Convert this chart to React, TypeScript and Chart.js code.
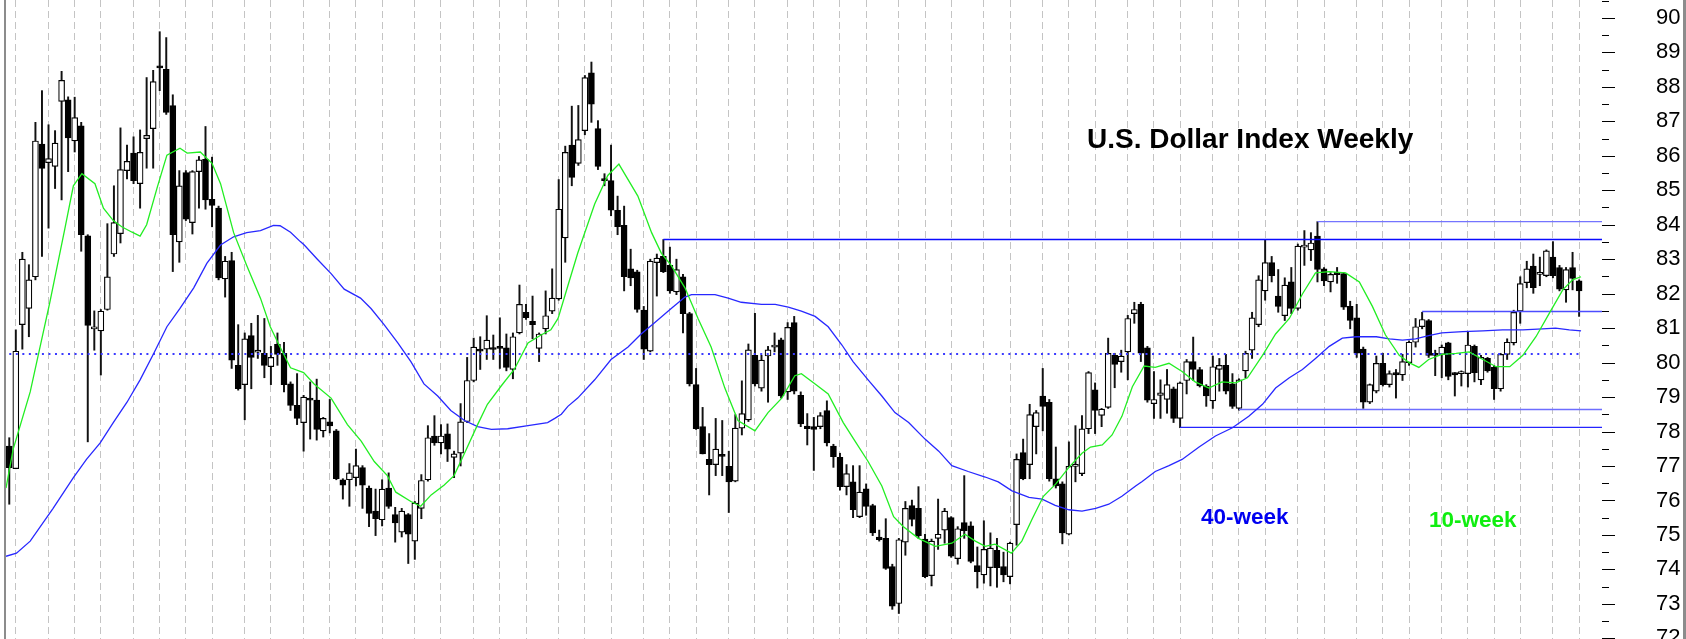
import React, { useEffect, useRef } from 'react';
import { Chart, registerables } from 'chart.js';

Chart.register(...registerables);

// Weekly OHLC (index 0..240)
const opens = [
  77.58, 76.92, 81.1, 81.57, 82.49, 86.34, 85.8, 85.69, 87.58, 87.62,
  86.43, 86.87, 83.68, 80.98, 80.92, 81.54, 83.15, 83.74, 85.57, 86.08,
  85.19, 86.5, 86.79, 88.61, 88.51, 87.46, 83.5, 85.51, 84.06, 85.54,
  85.9, 84.74, 84.48, 82.43, 82.96, 79.92, 79.36, 80.78, 80.3, 80.27,
  79.88, 80.53, 80.27, 79.38, 78.76, 78.26, 78.97, 78.91, 78.02, 78.28,
  78.02, 76.6, 76.6, 76.66, 76.95, 76.36, 75.69, 75.44, 76.36, 75.59,
  75.08, 75.59, 74.82, 75.77, 76.6, 77.87, 77.67, 77.93, 77.25, 77.37,
  78.29, 79.48, 80.39, 80.39, 80.42, 80.45, 80.43, 79.8, 80.86, 81.46,
  81.2, 80.41, 80.98, 81.49, 81.85, 83.62, 86.31, 85.78, 86.73, 88.41,
  86.79, 85.33, 85.28, 84.42, 83.98, 82.72, 82.63, 81.52, 80.33, 82.9,
  83.08, 82.82, 82.05, 82.49, 81.42, 79.36, 78.14, 77.19, 77.04, 77.31,
  76.99, 76.56, 78.1, 78.34, 80.21, 79.26, 80.19, 80.45, 80.66, 79.15,
  81.16, 79.05, 78.16, 78.14, 78.14, 78.61, 77.58, 77.25, 76.4, 76.54,
  75.53, 76.34, 75.85, 74.94, 74.9, 74.08, 73.01, 74.79, 75.85, 75.77,
  74.88, 73.82, 74.9, 75.14, 75.5, 74.31, 75.36, 75.26, 74.11, 73.84,
  74.05, 74.55, 74.08, 73.79, 75.3, 77.39, 77.04, 78.14, 79.03, 78.85,
  76.63, 76.48, 75.02, 76.99, 76.78, 78.08, 79.21, 78.47, 78.7, 80.21,
  80.03, 80.31, 81.42, 81.69, 80.43, 78.81, 79.05, 78.93, 79.24, 78.38,
  79.48, 80.03, 79.8, 79.32, 78.89, 79.8, 79.92, 79.38, 78.67, 79.76,
  80.36, 81.1, 82.08, 82.9, 81.93, 81.36, 82.34, 81.57, 83.35, 83.27,
  83.67, 82.72, 82.34, 82.62, 82.58, 81.63, 81.3, 80.39, 78.85, 79.17,
  79.98, 79.36, 79.71, 79.64, 80.0, 80.59, 81.04, 81.22, 80.27, 80.24,
  80.57, 79.71, 79.68, 79.68, 80.47, 79.5, 80.12, 79.86, 79.24, 80.24,
  80.57, 81.49, 82.32, 82.8, 82.56, 82.52, 83.06, 82.76, 82.11, 82.76,
  82.37
];
const highs = [
  77.82, 80.95, 83.2, 82.84, 86.97, 87.89, 86.9, 86.73, 88.45, 87.71,
  87.7, 86.97, 83.71, 81.5, 81.54, 84.03, 85.13, 86.81, 86.31, 86.55,
  86.75, 88.27, 88.48, 89.6, 89.43, 87.77, 85.57, 85.57, 85.57, 85.98,
  86.85, 85.96, 84.54, 83.08, 83.2, 81.1, 80.86, 81.14, 81.37, 81.28,
  80.47, 80.86, 80.59, 79.44, 79.68, 79.05, 79.44, 79.52, 78.41, 78.93,
  78.06, 76.63, 77.07, 77.49, 77.01, 76.42, 76.33, 76.6, 76.8, 75.8,
  75.77, 75.62, 75.97, 76.75, 78.17, 78.46, 78.2, 78.22, 77.43, 78.81,
  80.15, 80.71, 80.75, 81.36, 80.8, 81.3, 80.83, 80.86, 82.25, 81.69,
  81.93, 80.86, 82.08, 82.72, 85.31, 86.28, 87.44, 87.46, 88.33, 88.72,
  87.02, 85.48, 86.31, 84.83, 84.54, 83.29, 82.68, 81.63, 83.0, 83.15,
  83.57, 83.35, 83.0, 82.56, 81.46, 79.83, 78.7, 77.94, 78.38, 78.32,
  77.43, 78.49, 79.47, 80.54, 81.43, 80.21, 80.47, 80.86, 80.71, 81.16,
  81.34, 79.15, 78.52, 78.41, 78.55, 78.89, 77.63, 77.37, 77.04, 77.01,
  77.01, 76.48, 75.89, 75.14, 75.47, 74.15, 74.9, 75.97, 76.01, 76.4,
  75.02, 74.88, 76.04, 75.77, 75.53, 75.24, 76.72, 75.38, 74.65, 75.41,
  75.06, 74.9, 74.5, 74.79, 77.35, 77.78, 78.79, 78.61, 79.83, 78.93,
  77.55, 76.54, 77.7, 78.17, 78.46, 79.74, 79.41, 78.67, 80.71, 80.27,
  80.36, 81.37, 81.75, 81.75, 80.47, 79.74, 79.5, 79.8, 79.29, 79.44,
  80.09, 80.74, 79.86, 79.36, 80.19, 80.12, 80.24, 79.68, 79.53, 80.33,
  81.46, 82.52, 83.55, 83.08, 82.7, 82.46, 82.76, 83.44, 83.83, 83.77,
  84.09, 82.76, 82.61, 82.76, 82.61, 81.78, 81.69, 80.45, 79.38, 80.19,
  80.27, 79.76, 79.8, 80.24, 80.63, 81.28, 81.46, 81.25, 80.36, 80.51,
  80.59, 79.71, 79.76, 80.9, 80.51, 80.21, 80.15, 79.92, 80.27, 80.69,
  81.52, 82.49, 82.94, 83.15, 83.06, 83.27, 83.51, 82.82, 82.76, 83.2,
  82.4
];
const lows = [
  75.89, 76.92, 80.39, 80.75, 82.4, 83.08, 83.9, 85.05, 84.72, 85.54,
  86.11, 83.23, 77.7, 80.36, 79.64, 81.52, 83.08, 83.47, 85.33, 85.19,
  84.48, 85.64, 85.64, 87.89, 87.2, 82.64, 82.91, 84.12, 83.73, 84.48,
  84.45, 83.94, 82.4, 81.9, 79.83, 79.2, 78.34, 79.24, 80.12, 79.56,
  79.36, 79.92, 79.15, 78.61, 78.2, 77.43, 77.78, 77.75, 77.84, 77.96,
  76.6, 76.04, 75.83, 76.42, 75.77, 75.24, 74.98, 75.26, 75.77, 74.79,
  74.94, 74.17, 74.29, 75.47, 76.56, 77.6, 77.35, 77.13, 76.66, 77.0,
  78.26, 79.44, 79.8, 80.09, 80.09, 79.83, 79.76, 79.53, 80.83, 81.25,
  80.69, 80.03, 80.83, 81.42, 81.81, 82.91, 85.13, 85.72, 86.61, 86.97,
  85.6, 85.13, 84.26, 83.71, 82.08, 82.23, 81.46, 80.09, 80.31, 81.93,
  82.61, 82.01, 81.97, 80.86, 79.32, 78.06, 77.35, 76.16, 76.72, 76.72,
  75.65, 76.54, 77.9, 78.29, 79.32, 79.17, 78.85, 80.31, 78.97, 78.93,
  79.09, 78.14, 77.61, 76.87, 78.08, 77.58, 76.96, 76.3, 76.16, 75.5,
  75.5, 75.57, 74.98, 74.82, 74.0, 72.84, 72.72, 74.41, 75.26, 74.9,
  73.76, 73.52, 74.58, 74.76, 74.35, 74.15, 74.9, 74.19, 73.46, 73.6,
  73.52, 73.48, 73.64, 73.58, 74.7, 76.6, 76.63, 77.35, 78.02, 76.56,
  76.36, 74.74, 75.0, 76.54, 76.72, 77.94, 77.94, 78.14, 78.67, 79.27,
  79.72, 79.5, 81.14, 80.03, 78.85, 78.38, 78.38, 78.53, 78.26, 78.11,
  79.09, 79.48, 79.29, 78.73, 78.67, 79.17, 79.09, 78.67, 78.62, 79.56,
  80.12, 81.04, 81.81, 82.34, 81.46, 81.22, 81.42, 81.52, 82.82, 82.96,
  82.34, 82.23, 82.05, 82.3, 81.54, 80.98, 80.15, 78.67, 78.81, 79.12,
  79.32, 79.29, 78.97, 79.48, 79.92, 80.45, 80.98, 80.15, 79.62, 79.56,
  79.5, 79.03, 79.32, 79.29, 79.44, 79.36, 79.72, 78.93, 79.17, 80.09,
  80.51, 81.14, 82.17, 82.01, 82.23, 82.49, 82.46, 82.08, 81.75, 82.11,
  81.34
];
const closes = [
  76.95, 80.33, 83.0, 82.4, 86.43, 85.63, 85.92, 86.37, 88.19, 86.52,
  87.11, 83.71, 81.08, 81.03, 81.49, 82.49, 84.06, 85.6, 85.84, 85.28,
  86.1, 86.59, 88.15, 88.55, 87.26, 83.71, 85.13, 84.16, 85.54, 85.88,
  84.72, 84.56, 82.46, 82.94, 80.07, 79.24, 80.69, 80.15, 80.36, 79.92,
  80.15, 80.24, 79.36, 78.76, 78.38, 79.0, 78.91, 78.06, 78.38, 78.16,
  76.63, 76.44, 76.8, 77.01, 76.44, 75.62, 75.47, 76.33, 75.83, 75.35,
  75.69, 75.02, 75.92, 76.58, 77.82, 77.67, 77.87, 77.49, 77.35, 78.28,
  79.48, 80.45, 80.33, 80.65, 80.38, 80.41, 79.86, 80.75, 81.69, 81.3,
  81.1, 80.83, 81.36, 81.87, 84.45, 86.1, 85.37, 86.47, 88.27, 87.5,
  85.69, 85.28, 84.42, 83.94, 82.49, 82.46, 81.54, 80.39, 82.94, 83.03,
  82.64, 82.08, 82.7, 81.42, 79.38, 78.08, 77.35, 77.04, 77.49, 77.28,
  76.54, 78.1, 78.52, 80.37, 79.38, 80.07, 80.37, 80.51, 79.03, 81.02,
  79.17, 78.22, 78.08, 78.06, 78.46, 77.67, 77.27, 76.4, 76.78, 75.73,
  76.24, 75.83, 75.06, 74.86, 74.03, 72.93, 74.86, 75.77, 75.45, 74.98,
  73.79, 74.82, 75.02, 75.69, 74.38, 75.18, 75.12, 74.23, 73.93, 74.58,
  74.62, 74.05, 73.84, 74.76, 77.19, 76.63, 78.49, 78.55, 78.73, 76.63,
  76.42, 75.06, 76.99, 77.03, 78.08, 79.71, 78.61, 78.65, 80.27, 79.95,
  80.19, 81.28, 81.54, 80.27, 78.91, 78.93, 79.12, 79.36, 78.38, 79.41,
  80.03, 79.8, 79.32, 79.03, 79.88, 79.92, 79.17, 78.73, 79.5, 80.27,
  81.3, 82.4, 82.9, 82.52, 81.63, 82.25, 81.57, 83.38, 83.41, 83.47,
  82.7, 82.37, 82.56, 82.55, 81.61, 81.22, 80.27, 78.85, 79.36, 79.98,
  79.36, 79.68, 79.64, 80.03, 80.59, 81.04, 81.25, 80.21, 80.21, 80.45,
  79.6, 79.64, 79.71, 80.51, 79.71, 80.15, 79.76, 79.24, 80.24, 80.59,
  81.46, 82.29, 82.72, 82.17, 82.6, 83.24, 82.52, 82.13, 82.7, 82.44,
  82.08
];

// 10-week moving average (week index, value)
const ma10Week = [
  -0.5, 0.6, 3.2, 6.2, 8.5, 9.8, 11.1, 13.1, 14.4, 15.9, 17.2, 18.7, 20, 21, 22.6, 24.1, 26.1, 27.2, 29.2, 31,
  32.3, 34.3, 36.3, 38.4, 39.9, 41.4, 43, 45, 46.6, 49.2, 51.7, 53.8, 55.8, 57.8, 59.1, 61.4, 62.9, 64.5, 66.5, 68,
  69.6, 71.6, 73.1, 75.2, 77.2, 79.3, 81.3, 82.8, 83.9, 85.4, 86.9, 89.5, 91.5, 93.2, 96.1, 98.2, 99.7, 101.2, 103.3, 105.3,
  107.3, 109.4, 111.4, 114, 116, 118.1, 120.1, 121.1, 123.2, 125.2, 127.5, 129.3, 131.3, 133.4, 135.2, 136.7, 139, 141.6, 144.1, 146.1,
  147.7, 149.2, 150.7, 153.2, 154.8, 156.4, 158.1, 160, 162, 164, 165.3, 167.1, 168.6, 170.1, 171.7, 173.5, 175.2, 177.3, 179.3, 181.3,
  183.4, 185.4, 187.5, 189.3, 191.6, 193.6, 195.7, 197.7, 199.7, 201.8, 204.3, 206.4, 208.4, 210.4, 212.5, 214, 215.5, 217, 219, 221.2,
  223.2, 225.3, 227.3, 229.4, 231.4, 233.4, 235.5, 237.5, 239, 240.3
];
const ma10Value = [
  76.36, 77.49, 79.15, 81.75, 83.89, 85.13, 85.48, 85.19, 84.48, 84.12, 83.94, 83.79, 83.67, 84.0, 85.07, 86.02, 86.22, 86.08, 86.11, 85.78,
  85.19, 83.77, 82.82, 81.87, 81.04, 80.45, 79.85, 79.71, 79.38, 78.97, 78.2, 77.72, 77.13, 76.72, 76.24, 75.97, 75.83, 76.16, 76.45, 76.72,
  77.37, 78.2, 78.79, 79.32, 79.8, 80.57, 80.8, 80.95, 81.28, 82.23, 83.17, 84.6, 85.43, 85.76, 84.83, 83.77, 83.17, 82.82, 82.17, 81.28,
  80.45, 79.26, 78.32, 78.02, 78.55, 78.97, 79.62, 79.68, 79.38, 79.09, 78.26, 77.72, 77.13, 76.42, 75.53, 75.24, 74.9, 74.67, 74.76, 75.02,
  74.82, 74.67, 74.73, 74.47, 74.82, 75.47, 76.12, 76.48, 76.96, 77.37, 77.55, 77.61, 77.9, 78.44, 79.3, 79.9, 79.86, 79.98, 79.74, 79.44,
  79.26, 79.44, 79.41, 79.56, 80.21, 80.83, 81.28, 81.99, 82.6, 82.64, 82.6, 82.34, 81.63, 80.8, 80.21, 80.0, 79.86, 80.09, 80.24, 80.27,
  80.31, 80.09, 79.88, 79.88, 80.21, 80.75, 81.45, 82.11, 82.4, 82.49
];

// 40-week moving average (week index, value)
const ma40Week = [
  -0.5, 1.1, 3.2, 6.7, 9.8, 11.8, 13.9, 15.9, 18, 20, 22.1, 24.1, 26.1, 28.2, 30.2, 32.3, 34.3, 36.3, 38.4, 40.4,
  41.4, 43, 44.5, 45.1, 47.1, 49.2, 51.2, 53.7, 55.3, 57.3, 59.4, 61.4, 63.4, 65.5, 67.5, 69.6, 71.6, 73.7, 76.2, 79.3,
  82.3, 83.4, 84.4, 85.4, 86.9, 89.5, 92, 94.6, 96.6, 98.7, 101.2, 103.3, 104.3, 107.9, 109.9, 111.9, 115, 117.1, 119.1, 121.1,
  123.2, 125.2, 127.3, 129, 131.3, 133.4, 135.4, 137.5, 140, 142.1, 144.1, 146.6, 149.2, 151.2, 153.3, 155.9, 157.9, 159.9, 162, 164,
  166.1, 168.1, 170.1, 172.2, 173.2, 175.2, 177.3, 179.3, 181.9, 184.4, 187, 189.5, 191.6, 193.6, 195.7, 197.7, 199.7, 201.8, 203.8, 205.9,
  209, 211, 213, 215, 217, 219, 222.2, 225.3, 228.3, 231.4, 234.4, 236.4, 238.5, 240.3
];
const ma40Value = [
  74.38, 74.47, 74.82, 75.77, 76.66, 77.19, 77.67, 78.26, 78.85, 79.5, 80.27, 81.04, 81.57, 82.17, 82.88, 83.41, 83.65, 83.77, 83.83, 83.98,
  83.97, 83.78, 83.51, 83.41, 83.0, 82.58, 82.13, 81.87, 81.57, 81.1, 80.57, 80.03, 79.38, 79.03, 78.61, 78.32, 78.14, 78.06, 78.08, 78.17,
  78.26, 78.38, 78.5, 78.73, 78.97, 79.5, 80.09, 80.45, 80.83, 81.16, 81.57, 81.9, 81.97, 81.97, 81.87, 81.75, 81.69, 81.69, 81.61, 81.49,
  81.34, 81.04, 80.51, 80.03, 79.5, 79.03, 78.55, 78.26, 77.78, 77.43, 77.01, 76.84, 76.68, 76.54, 76.28, 76.09, 76.04, 75.86, 75.73, 75.69,
  75.77, 75.89, 76.12, 76.42, 76.55, 76.84, 77.01, 77.19, 77.55, 77.87, 78.11, 78.44, 78.79, 79.26, 79.56, 79.8, 80.12, 80.47, 80.71, 80.75,
  80.75, 80.69, 80.65, 80.69, 80.78, 80.86, 80.9, 80.92, 80.95, 80.95, 80.98, 81.0, 80.95, 80.92
];

// Monthly vertical grid lines (week index)
const monthGridWeeks = [
  1, 6, 10, 14, 19, 23, 27, 31, 36, 40, 45, 49, 53, 57, 62, 66, 71, 75, 79, 84,
  88, 92, 97, 101, 105, 110, 114, 119, 123, 127, 131, 136, 140, 144, 149, 153, 158, 162, 166, 171,
  175, 179, 184, 188, 192, 197, 201, 206, 210, 214, 219, 223, 227, 231, 236, 240
];

// Y axis ticks
const yMajorTicks = [72, 73, 74, 75, 76, 77, 78, 79, 80, 81, 82, 83, 84, 85, 86, 87, 88, 89, 90];
const yMinorTicks = [72.5, 73.5, 74.5, 75.5, 76.5, 77.5, 78.5, 79.5, 80.5, 81.5, 82.5, 83.5, 84.5, 85.5, 86.5, 87.5, 88.5, 89.5, 90.5];

// Horizontal support / resistance lines
const levelValues = [84.09, 83.57, 81.48, 78.64, 78.12];
const levelStartWeeks = [200, 100, 216, 188, 179];
const levelColors = ['#7474ff', '#0a0aff', '#4c4cff', '#6e6eff', '#2424ff'];
const dottedLevel = 80.25;
const dottedRange = [0, 240];

const X_MIN = -0.5;
const X_MAX = 243.5;
const Y_MIN = 71.98;
const Y_MAX = 90.52;

const decorPlugin = {
  id: 'decor',
  afterDraw(chart: any) {
    const { ctx, chartArea } = chart;
    const y = chart.scales.y;
    ctx.save();
    ctx.strokeStyle = '#000';
    ctx.lineWidth = 1;
    const drawTick = (v: number, len: number) => {
      const py = Math.round(y.getPixelForValue(v)) + 0.5;
      ctx.beginPath();
      ctx.moveTo(chartArea.right, py);
      ctx.lineTo(chartArea.right + len, py);
      ctx.stroke();
    };
    yMajorTicks.forEach((v) => drawTick(v, 13));
    yMinorTicks.forEach((v) => drawTick(v, 7));
    ctx.fillStyle = '#8c8c8c';
    ctx.fillRect(4, 0, 2, chart.height);
    ctx.fillRect(chart.width - 3, 0, 3, chart.height);
    ctx.textBaseline = 'alphabetic';
    ctx.textAlign = 'left';
    ctx.fillStyle = '#000';
    ctx.font = 'bold 28px "Liberation Sans", Arial, sans-serif';
    ctx.fillText('U.S. Dollar Index Weekly', 1087, 148);
    ctx.fillStyle = '#0000f0';
    ctx.font = 'bold 22.5px "Liberation Sans", Arial, sans-serif';
    ctx.fillText('40-week', 1201, 524);
    ctx.fillStyle = '#10ee10';
    ctx.fillText('10-week', 1429, 527);
    ctx.restore();
  },
};

export default function App() {
  const ref = useRef<HTMLCanvasElement | null>(null);

  useEffect(() => {
    if (!ref.current) return;
    const bodies = opens.map((o, i) => ({ x: i, y: [o, closes[i]] }));
    const wicks = lows.map((l, i) => ({ x: i, y: [l, highs[i]] }));
    const levelSets = levelValues.map((lv, k) => ({
      type: 'line' as const,
      data: [
        { x: levelStartWeeks[k], y: lv },
        { x: X_MAX, y: lv },
      ],
      borderColor: levelColors[k],
      borderWidth: 1.4,
      pointRadius: 0,
      order: 1,
    }));

    const chart = new Chart(ref.current, {
      type: 'bar',
      data: {
        datasets: [
          {
            type: 'line',
            label: '10-week',
            data: ma10Week.map((x, i) => ({ x, y: ma10Value[i] })),
            borderColor: '#22ee22',
            borderWidth: 1.3,
            pointRadius: 0,
            tension: 0,
            order: 0,
          } as any,
          {
            type: 'line',
            label: '40-week',
            data: ma40Week.map((x, i) => ({ x, y: ma40Value[i] })),
            borderColor: '#2828ff',
            borderWidth: 1.3,
            pointRadius: 0,
            tension: 0,
            order: 0,
          } as any,
          ...(levelSets as any[]),
          {
            type: 'line',
            data: [
              { x: dottedRange[0], y: dottedLevel },
              { x: dottedRange[1], y: dottedLevel },
            ],
            borderColor: '#3a3aff',
            borderWidth: 2,
            borderDash: [2, 4.53],
            pointRadius: 0,
            order: 1,
          } as any,
          {
            type: 'bar',
            data: bodies,
            backgroundColor: (c: any) =>
              closes[c.dataIndex] >= opens[c.dataIndex] ? '#ffffff' : '#000000',
            borderColor: '#000000',
            borderWidth: 1.2,
            borderSkipped: false,
            barThickness: 6,
            minBarLength: 2,
            grouped: false,
            order: 2,
          } as any,
          {
            type: 'bar',
            data: wicks,
            backgroundColor: '#111111',
            borderWidth: 0,
            barThickness: 1.3,
            grouped: false,
            order: 3,
          } as any,
        ],
      },
      options: {
        animation: false,
        responsive: true,
        maintainAspectRatio: false,
        events: [],
        layout: { padding: { left: 6, right: 0, top: 0, bottom: 0 } },
        plugins: {
          legend: { display: false },
          tooltip: { enabled: false },
          title: { display: false },
        },
        scales: {
          x: {
            type: 'linear',
            min: X_MIN,
            max: X_MAX,
            offset: false,
            afterBuildTicks: (s: any) => {
              s.ticks = monthGridWeeks.map((v) => ({ value: v }));
            },
            afterFit: (s: any) => {
              s.height = 0;
              s.paddingLeft = 0;
              s.paddingRight = 0;
            },
            ticks: { display: false },
            grid: {
              display: true,
              offset: false,
              color: '#c4c4c4',
              lineWidth: 1,
              drawTicks: false,
            },
            border: { display: false, dash: [7, 4] },
          } as any,
          y: {
            type: 'linear',
            position: 'right',
            min: Y_MIN,
            max: Y_MAX,
            beginAtZero: false,
            afterBuildTicks: (s: any) => {
              s.ticks = yMajorTicks.map((v) => ({ value: v }));
            },
            afterFit: (s: any) => {
              s.width = 84;
              s.paddingTop = 0;
              s.paddingBottom = 0;
            },
            ticks: {
              autoSkip: false,
              color: '#000',
              font: { family: '"Liberation Sans", Arial, sans-serif', size: 22 },
              crossAlign: 'near',
              padding: 54,
              callback: (v: any) => String(v),
            },
            grid: { display: false, drawTicks: false },
            border: { display: false },
          } as any,
        },
      },
      plugins: [decorPlugin],
    });
    return () => chart.destroy();
  }, []);

  return (
    <div style={{ position: 'fixed', left: 0, top: 0, width: 1686, height: 639, background: '#fff' }}>
      <canvas ref={ref} />
    </div>
  );
}
